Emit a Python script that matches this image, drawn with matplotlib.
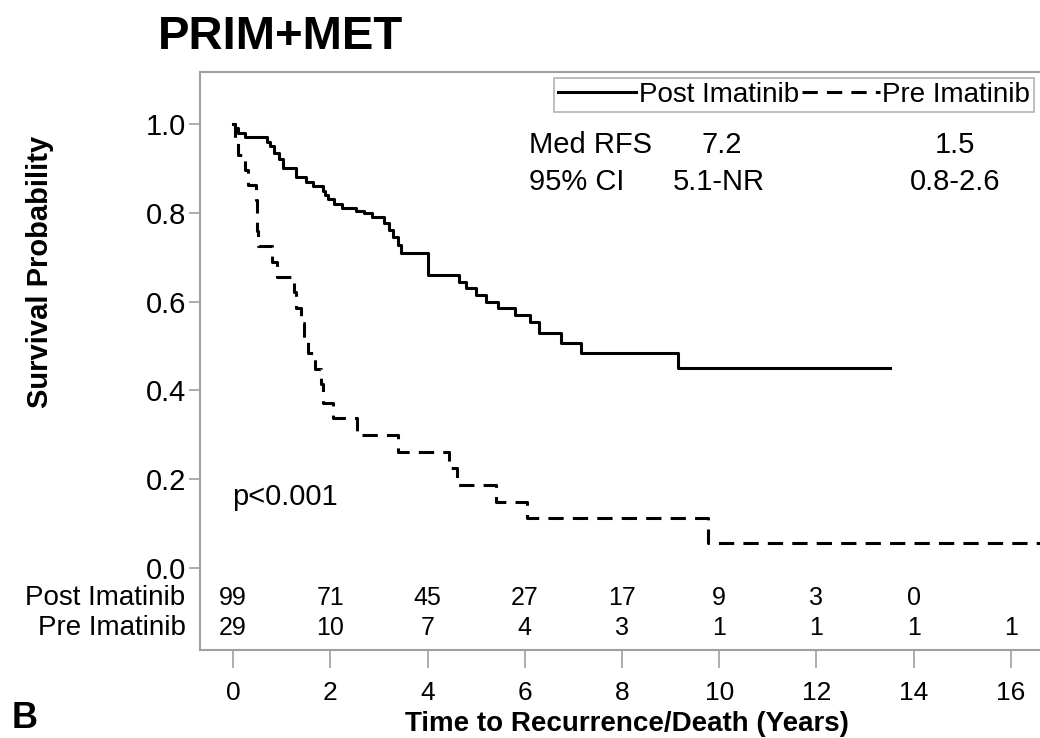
import numpy as np
import matplotlib
matplotlib.use("Agg")
import matplotlib.pyplot as plt
from matplotlib import font_manager

# Kaplan-Meier steps (time in years, survival after the drop)
post_t = [0.0, 0.05, 0.1, 0.25, 0.7, 0.75, 0.85, 0.95, 1.03, 1.3, 1.5, 1.64, 1.85, 1.9,
          1.95, 2.08, 2.25, 2.53, 2.7, 2.86, 3.1, 3.2, 3.3, 3.4, 3.45, 4.0, 4.65, 4.8,
          5.0, 5.2, 5.45, 5.8, 6.1, 6.3, 6.75, 7.15, 9.16, 13.52]
post_s = [1.0, 0.99, 0.98, 0.97, 0.96, 0.95, 0.935, 0.92, 0.90, 0.88, 0.87, 0.86, 0.85, 0.84,
          0.83, 0.82, 0.81, 0.805, 0.80, 0.79, 0.777, 0.76, 0.745, 0.727, 0.71, 0.66, 0.645, 0.63,
          0.615, 0.60, 0.585, 0.57, 0.554, 0.529, 0.507, 0.484, 0.45, 0.45]

pre_t = [0.0, 0.05, 0.1, 0.25, 0.3, 0.47, 0.5, 0.52, 0.8, 0.9, 1.25, 1.3, 1.4, 1.45, 1.55,
         1.68, 1.8, 1.85, 2.05, 2.55, 3.4, 4.45, 4.6, 5.4, 6.05, 9.77, 16.8]
pre_s = [1.0, 0.966, 0.931, 0.897, 0.862, 0.828, 0.759, 0.724, 0.69, 0.655, 0.621, 0.586,
         0.552, 0.517, 0.483, 0.448, 0.414, 0.372, 0.338, 0.30, 0.26, 0.225, 0.187, 0.148,
         0.113, 0.056, 0.056]

risk_times = [0, 2, 4, 6, 8, 10, 12, 14, 16]
post_risk = [99, 71, 45, 27, 17, 9, 3, 0]
pre_risk = [29, 10, 7, 4, 3, 1, 1, 1, 1]

groups = ["Post Imatinib", "Pre Imatinib"]
med_rfs = ["7.2", "1.5"]
ci95 = ["5.1-NR", "0.8-2.6"]

names = {f.name for f in font_manager.fontManager.ttflist}
main_font = "Liberation Sans" if "Liberation Sans" in names else "DejaVu Sans"
plt.rcParams['font.family'] = main_font

FS = 21

fig = plt.figure(figsize=(10.4, 7.38), dpi=100)
ax = fig.add_axes([200/1040, 88/738, 840/1040, 578/738])

ax.plot(post_t, post_s, drawstyle='steps-post', color='black', lw=2.2, label=groups[0])
ax.plot(pre_t, pre_s, drawstyle='steps-post', color='black', lw=2.2,
        linestyle=(0, (5, 3)), label=groups[1])

ax.set_xlim(-0.68, 16.6)
ax.set_ylim(-0.185, 1.117)

for s in ['left', 'top', 'bottom']:
    ax.spines[s].set_color('#a0a0a0')
    ax.spines[s].set_linewidth(1.5)
ax.spines['right'].set_visible(False)

ax.set_yticks([0, 0.2, 0.4, 0.6, 0.8, 1.0])
ax.set_yticklabels([f"{v:.1f}" for v in [0, 0.2, 0.4, 0.6, 0.8, 1.0]])
ax.set_xticks(risk_times)
ax.tick_params(axis='y', length=8, color='#a0a0a0', width=1.2, labelsize=FS, pad=2)
ax.tick_params(axis='x', length=13, color='#a0a0a0', width=1.2, labelsize=19, pad=9)

# number at risk table
for x, n in zip(risk_times, post_risk):
    ax.text(x, -0.068, str(n), ha='center', va='center', fontsize=18)
for x, n in zip(risk_times, pre_risk):
    ax.text(x, -0.135, str(n), ha='center', va='center', fontsize=18)
ax.text(-0.98, -0.068, groups[0], ha='right', va='center', fontsize=20)
ax.text(-0.98, -0.135, groups[1], ha='right', va='center', fontsize=20)

# median RFS annotations
ax.text(6.09, 0.953, "Med RFS", ha='left', va='center', fontsize=FS)
ax.text(6.09, 0.869, "95% CI", ha='left', va='center', fontsize=FS)
ax.text(10.06, 0.953, med_rfs[0], ha='center', va='center', fontsize=FS)
ax.text(10.0, 0.869, ci95[0], ha='center', va='center', fontsize=FS)
ax.text(14.86, 0.953, med_rfs[1], ha='center', va='center', fontsize=FS)
ax.text(14.86, 0.869, ci95[1], ha='center', va='center', fontsize=FS)
ax.text(-0.02, 0.16, "p<0.001", ha='left', va='center', fontsize=FS)

leg = ax.legend(loc='upper right', ncol=2, frameon=True, fancybox=False,
                edgecolor='#a0a0a0', handlelength=2.8, handletextpad=0.1,
                columnspacing=0.1, borderpad=0.15, borderaxespad=0.2,
                prop={'size': 20})
leg.get_frame().set_linewidth(1.2)

fig.text(40/1040, 1 - 272/738, "Survival Probability", rotation=90, ha='center', va='center',
         fontsize=21, fontweight='bold')
fig.text(627/1040, 1 - 737/738, "Time to Recurrence/Death (Years)", ha='center', va='bottom',
         fontsize=20, fontweight='bold')
fig.text(158/1040, 1 - 37/738, "PRIM+MET", ha='left', va='center', fontsize=34, fontweight='bold')
fig.text(12/1040, 1 - 718/738, "B", ha='left', va='center', fontsize=26, fontweight='bold')

fig.savefig("out.png", dpi=100)
